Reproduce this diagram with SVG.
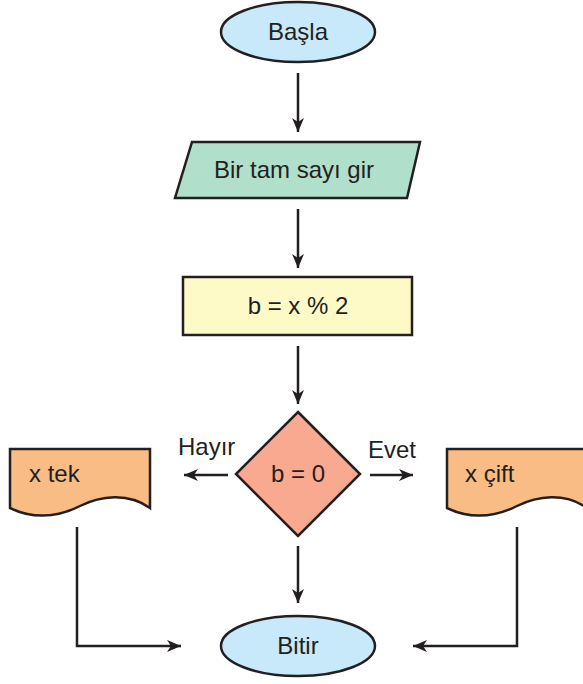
<svg xmlns="http://www.w3.org/2000/svg" width="583" height="684" viewBox="0 0 583 684">
  <style>
    .shape { stroke: #231f20; stroke-width: 2.5; stroke-linejoin: miter; }
    .conn { fill: none; stroke: #231f20; stroke-width: 2.5; }
    .label { font-family: "Liberation Sans", Arial, sans-serif; font-size: 24px; fill: #231f20; }
    .mid { text-anchor: middle; }
  </style>
  <defs>
    <marker id="arrow" viewBox="0 0 14 12" refX="14" refY="6" markerWidth="14" markerHeight="12" markerUnits="userSpaceOnUse" orient="auto">
      <path d="M0,0 L14,6 L0,12 L4,6 z" fill="#231f20"/>
    </marker>
  </defs>
  <rect width="583" height="684" fill="#ffffff"/>

  <g id="connectors">
    <line class="conn" x1="298" y1="73" x2="298" y2="132" marker-end="url(#arrow)"/>
    <line class="conn" x1="298" y1="209" x2="298" y2="268" marker-end="url(#arrow)"/>
    <line class="conn" x1="298" y1="346" x2="298" y2="404" marker-end="url(#arrow)"/>
    <line class="conn" x1="228" y1="475" x2="184" y2="475" marker-end="url(#arrow)"/>
    <line class="conn" x1="370" y1="475" x2="413" y2="475" marker-end="url(#arrow)"/>
    <line class="conn" x1="298" y1="546" x2="298" y2="603" marker-end="url(#arrow)"/>
    <polyline class="conn" points="77,527 77,646 181,646" marker-end="url(#arrow)"/>
    <polyline class="conn" points="517,527 517,646 413,646" marker-end="url(#arrow)"/>
    <text class="label" x="178" y="455">Hayır</text>
    <text class="label" x="368" y="458">Evet</text>
  </g>

  <g id="start">
    <ellipse class="shape" cx="298" cy="32" rx="77" ry="30" fill="#c7e9f9"/>
    <text class="label mid" x="298" y="40">Başla</text>
  </g>

  <g id="input">
    <polygon class="shape" points="192,142 420,142 407,198 175,198" fill="#b0dfcb"/>
    <text class="label mid" x="294" y="178">Bir tam sayı gir</text>
  </g>

  <g id="process">
    <rect class="shape" x="183" y="277" width="229" height="58" fill="#fefac8"/>
    <text class="label mid" x="298" y="314">b = x % 2</text>
  </g>

  <g id="decision">
    <polygon class="shape" points="298,412 360,474 298,536 236,474" fill="#f9a98f"/>
    <text class="label mid" x="298" y="482">b = 0</text>
  </g>

  <g id="odd">
    <path class="shape" d="M10,449 L150,449 L150,508 C128,492 100,496 80,506 C60,516 35,520 10,508 Z" fill="#f9bc85"/>
    <text class="label" x="29" y="482">x tek</text>
  </g>

  <g id="even">
    <path class="shape" d="M447,449 L587,449 L587,508 C565,492 537,496 517,506 C497,516 472,520 447,508 Z" fill="#f9bc85"/>
    <text class="label" x="465" y="482">x çift</text>
  </g>

  <g id="end">
    <ellipse class="shape" cx="298" cy="646" rx="77" ry="30" fill="#c7e9f9"/>
    <text class="label mid" x="298" y="654">Bitir</text>
  </g>
</svg>
